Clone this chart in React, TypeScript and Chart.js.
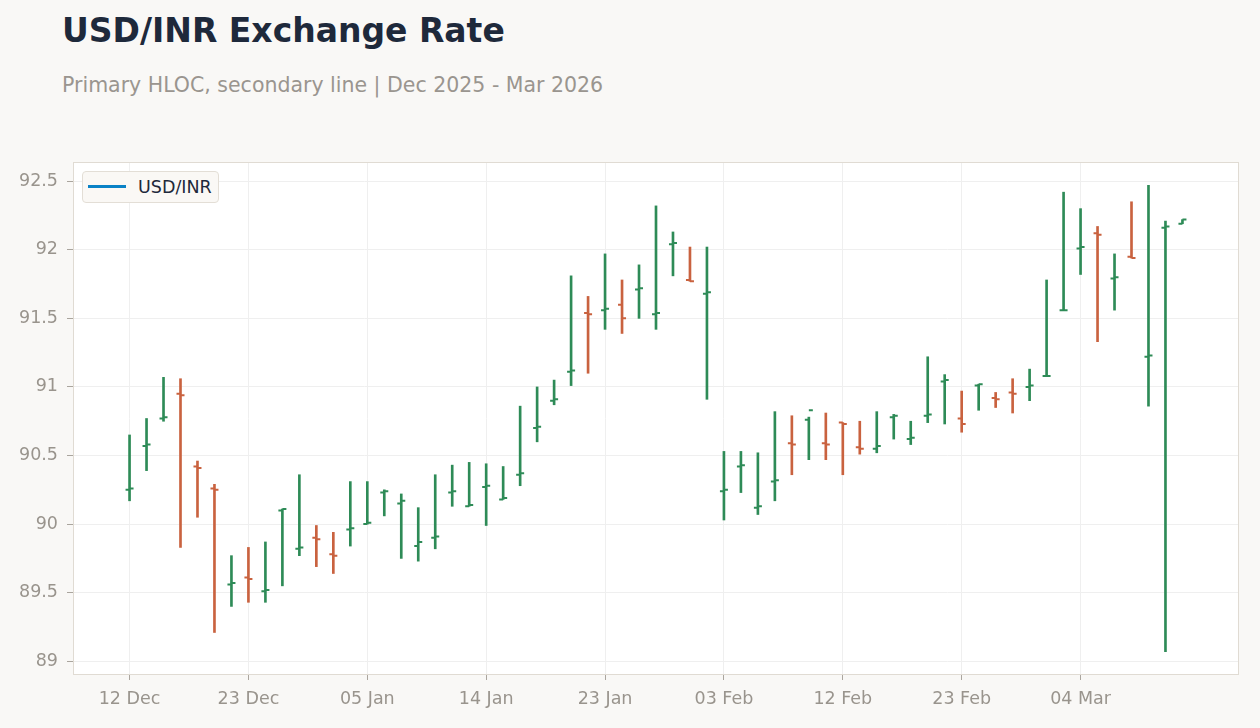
import React, { useEffect, useRef } from "react";
import { Chart, registerables } from "chart.js";

Chart.register(...registerables);

const dates = [
  "12 Dec", "15 Dec", "16 Dec", "17 Dec", "18 Dec", "19 Dec", "22 Dec", "23 Dec", "24 Dec", "26 Dec",
  "29 Dec", "30 Dec", "31 Dec", "02 Jan", "05 Jan", "06 Jan", "07 Jan", "08 Jan", "09 Jan", "12 Jan",
  "13 Jan", "14 Jan", "15 Jan", "16 Jan", "19 Jan", "20 Jan", "21 Jan", "22 Jan", "23 Jan", "26 Jan",
  "27 Jan", "28 Jan", "29 Jan", "30 Jan", "02 Feb", "03 Feb", "04 Feb", "05 Feb", "06 Feb", "09 Feb",
  "10 Feb", "11 Feb", "12 Feb", "13 Feb", "16 Feb", "17 Feb", "18 Feb", "19 Feb", "20 Feb", "23 Feb",
  "24 Feb", "25 Feb", "26 Feb", "27 Feb", "02 Mar", "03 Mar", "04 Mar", "05 Mar", "06 Mar", "09 Mar",
  "10 Mar", "11 Mar", "12 Mar",
];

const tickLabels = ["12 Dec", "23 Dec", "05 Jan", "14 Jan", "23 Jan", "03 Feb", "12 Feb", "23 Feb", "04 Mar"];

const opens = [
  90.25, 90.57, 90.77, 90.95, 90.42, 90.26, 89.56, 89.61, 89.51, 90.10,
  89.82, 89.90, 89.78, 89.96, 90.00, 90.23, 90.15, 89.84, 89.90, 90.23,
  90.13, 90.27, 90.18, 90.36, 90.70, 90.90, 91.11, 91.54, 91.56, 91.60,
  91.71, 91.53, 92.04, 91.78, 91.68, 90.24, 90.42, 90.12, 90.31, 90.59,
  90.76, 90.59, 90.74, 90.56, 90.55, 90.78, 90.62, 90.79, 91.04, 90.77,
  91.01, 90.92, 90.96, 91.00, 91.08, 91.56, 92.01, 92.12, 91.79, 91.95,
  91.22, 92.16, 92.19,
];

const highs = [
  90.65, 90.77, 91.07, 91.06, 90.46, 90.29, 89.77, 89.83, 89.87, 90.11,
  90.36, 89.99, 89.94, 90.31, 90.31, 90.25, 90.22, 90.12, 90.36, 90.43,
  90.45, 90.44, 90.42, 90.86, 91.00, 91.05, 91.81, 91.66, 91.97, 91.78,
  91.89, 92.32, 92.13, 92.02, 92.02, 90.53, 90.53, 90.52, 90.82, 90.79,
  90.78, 90.81, 90.74, 90.75, 90.82, 90.80, 90.75, 91.22, 91.09, 90.97,
  91.02, 90.96, 91.06, 91.13, 91.78, 92.42, 92.30, 92.17, 91.97, 92.35,
  92.47, 92.21, 92.22,
];

const lows = [
  90.17, 90.39, 90.75, 89.83, 90.05, 89.21, 89.40, 89.43, 89.43, 89.55,
  89.77, 89.69, 89.64, 89.84, 90.00, 90.06, 89.75, 89.73, 89.82, 90.13,
  90.13, 89.99, 90.18, 90.28, 90.60, 90.87, 91.01, 91.10, 91.42, 91.39,
  91.50, 91.42, 91.81, 91.77, 90.91, 90.03, 90.23, 90.07, 90.17, 90.36,
  90.47, 90.47, 90.36, 90.51, 90.52, 90.62, 90.58, 90.74, 90.73, 90.67,
  90.83, 90.85, 90.81, 90.90, 91.08, 91.56, 91.82, 91.33, 91.56, 91.94,
  90.86, 89.07, 92.19,
];

const closes = [
  90.26, 90.58, 90.78, 90.94, 90.41, 90.25, 89.57, 89.60, 89.52, 90.11,
  89.83, 89.89, 89.77, 89.97, 90.01, 90.24, 90.17, 89.87, 89.91, 90.24,
  90.14, 90.28, 90.19, 90.37, 90.71, 90.91, 91.12, 91.53, 91.57, 91.50,
  91.72, 91.54, 92.05, 91.77, 91.69, 90.25, 90.43, 90.13, 90.32, 90.58,
  90.83, 90.58, 90.73, 90.55, 90.57, 90.79, 90.63, 90.80, 91.05, 90.73,
  91.02, 90.91, 90.95, 91.01, 91.08, 91.56, 92.02, 92.11, 91.80, 91.94,
  91.23, 92.17, 92.22,
];

const UP = "#2e8b57";
const DOWN = "#c9623f";
const LINE_BLUE = "#0a82c6";
const SERIES_LABEL = "USD/INR";

export default function App() {
  const canvasRef = useRef<HTMLCanvasElement | null>(null);

  useEffect(() => {
    document.body.style.margin = "0";
    document.body.style.background = "#f9f8f6";
    const canvas = canvasRef.current;
    if (!canvas) return;

    const colors = closes.map((c, i) => (c >= opens[i] ? UP : DOWN));
    const allVals = [...highs, ...lows, ...opens, ...closes];
    const dMin = Math.min(...allVals);
    const dMax = Math.max(...allVals);
    const pad = (dMax - dMin) * 0.05;
    const n = dates.length;
    const xPad = 3.33;
    const tickIdx = tickLabels.map((l) => dates.indexOf(l));

    const areaPlugin = {
      id: "areaDeco",
      beforeDraw(chart: any) {
        const { ctx, chartArea } = chart;
        ctx.save();
        ctx.fillStyle = "#ffffff";
        ctx.fillRect(chartArea.left, chartArea.top, chartArea.right - chartArea.left, chartArea.bottom - chartArea.top);
        ctx.restore();
      },
      afterDraw(chart: any) {
        const { ctx, chartArea } = chart;
        ctx.save();
        ctx.strokeStyle = "#e0dbd3";
        ctx.lineWidth = 1;
        ctx.strokeRect(
          Math.round(chartArea.left) + 0.5,
          Math.round(chartArea.top) + 0.5,
          Math.round(chartArea.right - chartArea.left) - 1,
          Math.round(chartArea.bottom - chartArea.top) - 1
        );
        ctx.restore();
      },
    };

    const ocPlugin = {
      id: "openClose",
      afterDatasetsDraw(chart: any) {
        const { ctx } = chart;
        const xs = chart.scales.x;
        const ys = chart.scales.y;
        ctx.save();
        ctx.lineWidth = 2;
        ctx.lineCap = "butt";
        for (let i = 0; i < n; i++) {
          const x = xs.getPixelForValue(i);
          const yo = ys.getPixelForValue(opens[i]);
          const yc = ys.getPixelForValue(closes[i]);
          ctx.strokeStyle = colors[i];
          ctx.beginPath();
          ctx.moveTo(x - 4, yo);
          ctx.lineTo(x, yo);
          ctx.moveTo(x, yc);
          ctx.lineTo(x + 4, yc);
          ctx.stroke();
        }
        ctx.restore();
      },
    };

    const tickFont = { family: "'DejaVu Sans', sans-serif", size: 17.5 };

    const chart = new Chart(canvas, {
      type: "bar",
      data: {
        datasets: [
          {
            label: SERIES_LABEL,
            data: dates.map((_, i) => ({ x: i, y: [lows[i], highs[i]] })) as any,
            backgroundColor: colors,
            borderWidth: 0,
            borderSkipped: false,
            barThickness: 2,
          } as any,
        ],
      },
      options: {
        animation: false,
        responsive: false,
        maintainAspectRatio: false,
        layout: { padding: { top: 162, right: 21, left: 0, bottom: 0 } },
        plugins: {
          legend: { display: false },
          tooltip: { enabled: false },
          title: { display: false },
        },
        scales: {
          x: {
            type: "linear",
            min: -xPad,
            max: n - 1 + xPad,
            offset: false,
            border: { display: false },
            grid: {
              offset: false,
              color: "#efefef",
              tickColor: "#aaa59e",
              tickLength: 5,
              drawTicks: true,
            },
            ticks: {
              font: tickFont,
              color: "#99948d",
              padding: 9,
              maxRotation: 0,
              autoSkip: false,
              callback: (v: any) => {
                const idx = Math.round(Number(v));
                return dates[idx] ?? "";
              },
            },
            afterBuildTicks: (s: any) => {
              s.ticks = tickIdx.map((v) => ({ value: v }));
            },
            afterFit: (s: any) => {
              s.height = 53;
            },
          },
          y: {
            type: "linear",
            min: dMin - pad,
            max: dMax + pad,
            border: { display: false },
            grid: {
              color: "#efefef",
              tickColor: "#aaa59e",
              tickLength: 6,
            },
            ticks: {
              stepSize: 0.5,
              includeBounds: false,
              font: tickFont,
              color: "#99948d",
              padding: 9,
              callback: (v: any) => String(+Number(v).toFixed(2)),
            },
            afterFit: (s: any) => {
              s.width = 73;
            },
          },
        },
      } as any,
      plugins: [areaPlugin, ocPlugin],
    });

    return () => {
      chart.destroy();
    };
  }, []);

  const font = "'DejaVu Sans', sans-serif";

  return (
    <div
      style={{
        position: "relative",
        width: 1260,
        height: 728,
        background: "#f9f8f6",
        overflow: "hidden",
        fontFamily: font,
      }}
    >
      <div
        style={{
          position: "absolute",
          left: 62,
          top: 11,
          fontSize: 33,
          lineHeight: "40px",
          fontWeight: 700,
          color: "#1e293b",
          whiteSpace: "nowrap",
        }}
      >
        USD/INR Exchange Rate
      </div>
      <div
        style={{
          position: "absolute",
          left: 62,
          top: 73,
          fontSize: 20.5,
          lineHeight: "24px",
          color: "#9a958f",
          whiteSpace: "nowrap",
        }}
      >
        Primary HLOC, secondary line | Dec 2025 - Mar 2026
      </div>
      <canvas
        ref={canvasRef}
        width={1260}
        height={728}
        style={{ position: "absolute", left: 0, top: 0, width: 1260, height: 728 }}
      />
      <div
        style={{
          position: "absolute",
          left: 82,
          top: 171,
          width: 135,
          height: 30,
          border: "1px solid #e3ded6",
          borderRadius: 4,
          background: "#faf8f5",
        }}
      >
        <div
          style={{
            position: "absolute",
            left: 5,
            top: 13,
            width: 38,
            height: 3,
            background: LINE_BLUE,
          }}
        />
        <div
          style={{
            position: "absolute",
            left: 55,
            top: 4,
            fontSize: 17.5,
            lineHeight: "22px",
            color: "#1e293b",
            whiteSpace: "nowrap",
          }}
        >
          {SERIES_LABEL}
        </div>
      </div>
    </div>
  );
}
